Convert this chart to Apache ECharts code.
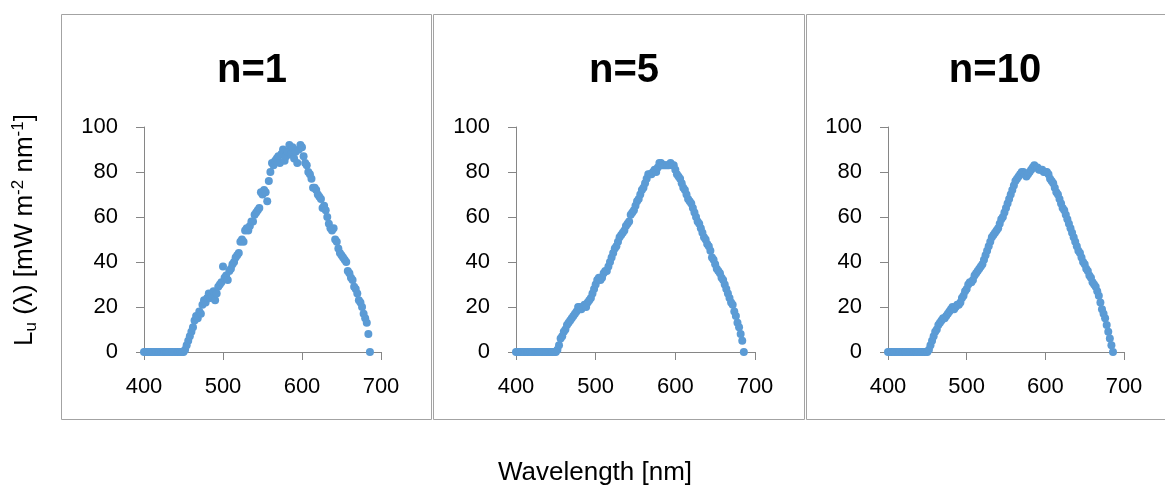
<!DOCTYPE html>
<html>
<head>
<meta charset="utf-8">
<script src="https://cdn.jsdelivr.net/npm/echarts@6/dist/echarts.min.js"></script>
<style>
  html, body { margin: 0; padding: 0; background: #ffffff; }
  #chart { width: 1165px; height: 486px; }
</style>
</head>
<body>
<div id="chart"></div>
<script>
// Wavelength samples (nm) shared by all three spectra
const wavelengths = [
  400,402,404,406,408,410,412,414,416,418,420,422,424,426,428,430,432,434,436,438,440,442,444,446,448,450,
  452,454,456,458,460,462,464,466,468,470,472,474,476,478,480,482,484,486,488,490,
  492,494,496,498,500,502,504,506,508,510,512,514,516,518,520,522,524,526,528,530,
  532,534,536,538,540,542,544,546,548,550,552,554,556,558,560,562,564,566,568,570,
  572,574,576,578,580,582,584,586,588,590,592,594,596,598,600,602,604,606,608,610,
  612,614,616,618,620,622,624,626,628,630,632,634,636,638,640,642,644,646,648,650,
  652,654,656,658,660,662,664,666,668,670,672,674,676,678,680,682,684,686
];

// Lu(λ) in mW m^-2 nm^-1 for n = 1, 5 and 10
const radianceN1 = [
  0,0,0,0,0,0,0,0,0,0,0,0,0,0,0,0,0,0,0,0,0,0,0,0,0,0,
  1,3,5,7,9,11,14,16,15,18,17,21,23,22,24,26,24,25,27,23,
  26,29,30,31,38,33,34,32,36,37,39,40,42,43,44,49,50,49,54,55,
  54,56,58,58,61,62,63,64,71,70,72,71,67,76,80,84,83,85,86,87,
  84,88,90,85,87,89,92,88,91,86,89,84,90,92,91,87,84,83,80,79,
  77,73,73,72,70,69,68,64,65,63,60,57,55,54,55,50,49,46,44,43,
  42,41,40,36,35,33,32,29,28,26,23,22,20,17,15,13,8,0
];
const radianceN5 = [
  0,0,0,0,0,0,0,0,0,0,0,0,0,0,0,0,0,0,0,0,0,0,0,0,0,0,
  1,3,6,7,9,10,12,13,14,15,16,17,18,20,20,19,20,21,20,22,
  23,24,26,28,30,32,33,32,33,35,36,36,38,40,42,44,46,47,49,51,
  52,53,54,56,57,58,61,62,63,65,67,68,70,72,73,75,77,79,79,79,
  80,81,80,82,84,84,83,83,83,83,83,84,83,83,81,79,78,77,75,73,
  72,70,68,67,66,64,62,60,58,57,55,53,51,50,48,47,45,42,41,39,
  37,36,35,33,32,30,28,26,24,22,21,18,16,13,11,8,5,0
];
const radianceN10 = [
  0,0,0,0,0,0,0,0,0,0,0,0,0,0,0,0,0,0,0,0,0,0,0,0,0,0,
  1,3,5,7,9,10,12,13,14,15,15,16,17,18,19,20,19,20,21,21,
  22,24,25,27,28,30,31,31,32,34,35,36,37,38,39,41,43,45,47,49,
  51,52,53,54,55,57,59,60,62,64,66,68,70,72,74,76,77,78,79,80,
  80,79,78,79,80,81,82,83,82,82,81,81,81,80,80,80,79,77,76,75,
  73,71,70,68,66,64,63,61,59,57,55,53,51,49,47,45,44,42,40,39,
  37,36,34,33,31,30,29,27,25,22,19,17,15,12,9,6,3,0
];

const panelTitles = ['n=1', 'n=5', 'n=10'];
const xTicks = { min: 400, max: 700, interval: 100 };
const yTicks = { min: 0, max: 100, interval: 20 };

const FONT = '"Liberation Sans", Arial, sans-serif';
const AXIS_GRAY = '#868686';
const DOT_BLUE = '#5B9BD5';
const FRAME_GRAY = '#a3a3a3';

const series = [radianceN1, radianceN5, radianceN10];

// Plot areas and frames of the three panels
const gridBoxes = [
  { left: 144, top: 127, width: 237, height: 225 },
  { left: 516, top: 127, width: 239, height: 225 },
  { left: 888, top: 127, width: 236, height: 225 }
];
const frames = [
  { x: 61.5, y: 14.5, w: 370, h: 405 },
  { x: 433.5, y: 14.5, w: 371, h: 405 },
  { x: 806.5, y: 14.5, w: 380, h: 405 }
];
const titleCenters = [247, 619, 990];

const chart = echarts.init(document.getElementById('chart'), null, { renderer: 'canvas' });

const option = {
  animation: false,
  backgroundColor: '#ffffff',
  title: panelTitles.map((t, i) => ({
    text: t,
    left: titleCenters[i],
    top: 46,
    textAlign: 'center',
    textStyle: { fontFamily: FONT, fontWeight: 'bold', fontSize: 40, lineHeight: 40, color: '#000' }
  })),
  grid: gridBoxes.map(g => ({ left: g.left, top: g.top, width: g.width, height: g.height, containLabel: false })),
  xAxis: gridBoxes.map((g, i) => ({
    type: 'value',
    gridIndex: i,
    min: xTicks.min, max: xTicks.max, interval: xTicks.interval,
    axisLine: { show: true, onZero: false, lineStyle: { color: AXIS_GRAY, width: 1 } },
    axisTick: { show: true, inside: false, length: 8, lineStyle: { color: AXIS_GRAY } },
    axisLabel: { margin: 24, fontFamily: FONT, fontSize: 22, color: '#000' },
    splitLine: { show: false }
  })),
  yAxis: gridBoxes.map((g, i) => ({
    type: 'value',
    gridIndex: i,
    min: yTicks.min, max: yTicks.max, interval: yTicks.interval,
    axisLine: { show: true, onZero: false, lineStyle: { color: AXIS_GRAY, width: 1 } },
    axisTick: { show: true, inside: false, length: 8, lineStyle: { color: AXIS_GRAY } },
    axisLabel: { margin: 26, fontFamily: FONT, fontSize: 22, color: '#000' },
    splitLine: { show: false }
  })),
  series: series.map((vals, i) => ({
    type: 'scatter',
    xAxisIndex: i,
    yAxisIndex: i,
    symbol: 'circle',
    symbolSize: 8,
    itemStyle: { color: DOT_BLUE, opacity: 1 },
    data: wavelengths.map((w, k) => [w, vals[k]])
  })),
  graphic: [
    ...frames.map(f => ({
      type: 'rect',
      silent: true,
      z: -1,
      shape: { x: f.x, y: f.y, width: f.w, height: f.h },
      style: { fill: 'none', stroke: FRAME_GRAY, lineWidth: 1 }
    })),
    {
      type: 'text',
      x: 25,
      y: 230,
      rotation: Math.PI / 2,
      style: {
        text: '{a|L}{sub|u}{a| (λ) [mW m}{sup|-2}{a| nm}{sup|-1}{a|]}',
        align: 'center',
        verticalAlign: 'middle',
        fill: '#000',
        rich: {
          a: { fontFamily: FONT, fontSize: 26, lineHeight: 30, fill: '#000' },
          sub: { fontFamily: FONT, fontSize: 17, lineHeight: 16, verticalAlign: 'bottom', fill: '#000' },
          sup: { fontFamily: FONT, fontSize: 17, lineHeight: 16, verticalAlign: 'top', fill: '#000' }
        }
      }
    },
    {
      type: 'text',
      x: 595,
      y: 473,
      style: {
        text: 'Wavelength [nm]',
        align: 'center',
        verticalAlign: 'middle',
        fontFamily: FONT,
        fontSize: 26,
        fill: '#000'
      }
    }
  ]
};

chart.setOption(option);
</script>
</body>
</html>
